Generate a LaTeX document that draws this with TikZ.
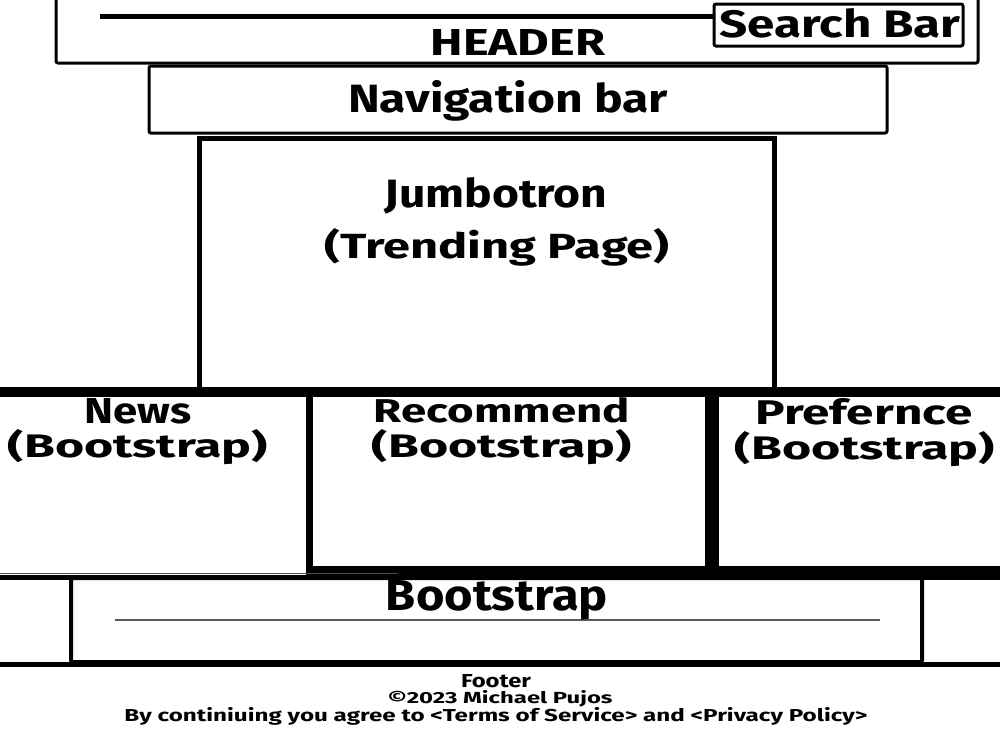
\documentclass[tikz,border=0pt]{standalone}
\usepackage{fontspec}
\setmainfont{Fira Sans}
\usepackage{graphicx}
\newcommand\fitT[3]{\resizebox{#1pt}{#2pt}{\bfseries #3}}
\tikzset{
  frame/.style={draw=black,line width=#1,rounded corners=2pt},
  bar/.style={draw=black,line width=#1},
  lbl/.style={anchor=base,inner sep=0pt,outer sep=0pt}
}
\begin{document}
\begin{tikzpicture}[x=1pt,y=-1pt]
\useasboundingbox (0,0) rectangle (1000,728);
\clip (0,0) rectangle (1000,728);
\fill[white] (0,0) rectangle (1000,728);
% header
\draw[frame=3pt] (56,-10) rectangle (978,63);
\draw[bar=5pt] (100,16) -- (713,16);
\draw[frame=3pt] (714,4) rectangle (963,46);
\node[lbl] (search) at (840,37) {\fitT{241}{29}{Search Bar}};
\node[lbl] (header) at (518,55) {\fitT{174}{26}{HEADER}};
% nav
\draw[frame=3pt] (149,66) rectangle (887,133);
\node[lbl] (nav) at (508,112) {\fitT{320}{32}{Navigation bar}};
% jumbotron
\draw[bar=5pt] (199,138) rectangle (774,390);
\node[lbl] (jumbo) at (496,207) {\fitT{223}{30}{Jumbotron}};
\node[lbl] (trend) at (497,258) {\fitT{345}{30}{(Trending Page)}};
% middle row
\fill[black] (0,387) rectangle (1000,397);
\fill[black] (306,393) rectangle (313,578);
\fill[black] (705,393) rectangle (719,578);
\fill[black] (306,566) rectangle (1000,579);
\draw[gray!60!black,line width=1pt] (0,573) -- (398,573);
\node[lbl] (news) at (138,423) {\fitT{107}{25}{News}};
\node[lbl] (newsb) at (138,457) {\fitT{260}{28}{(Bootstrap)}};
\node[lbl] (rec) at (502,422) {\fitT{256}{25}{Recommend}};
\node[lbl] (recb) at (502,457) {\fitT{260}{28}{(Bootstrap)}};
\node[lbl] (pref) at (864,424) {\fitT{217}{26}{Prefernce}};
\node[lbl] (prefb) at (865,459) {\fitT{260}{28}{(Bootstrap)}};
% bootstrap bottom
\draw[bar=5pt] (0,577) -- (1000,577);
\draw[frame=4pt] (71,578) rectangle (922,662);
\draw[gray!70!black,line width=1.5pt] (115,620) -- (880,620);
\node[lbl] (boot) at (497,610) {\fitT{222}{30}{Bootstrap}};
\draw[bar=5pt] (0,664) -- (1000,664);
% footer
\node[lbl] (footer) at (496,687) {\fitT{70}{13}{Footer}};
\node[lbl] (copy) at (500,703) {\fitT{225}{13}{©2023 Michael Pujos}};
\node[lbl] (terms) at (496,721) {\fitT{743}{14}{By continiuing you agree to <Terms of Service> and <Privacy Policy>}};
\end{tikzpicture}
\end{document}
